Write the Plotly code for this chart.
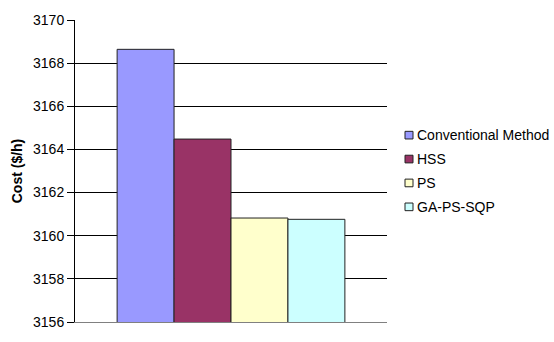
import plotly.graph_objects as go

# Generation cost per method ($/h)
methods = ["Conventional Method", "HSS", "PS", "GA-PS-SQP"]
costs = [3168.64, 3164.48, 3160.82, 3160.76]
colors = ["#9999FF", "#993366", "#FFFFCC", "#CCFFFF"]
y_ticks = [3156, 3158, 3160, 3162, 3164, 3166, 3168, 3170]

FONT = "Liberation Sans, Arial, sans-serif"

fig = go.Figure()
for name, cost, color in zip(methods, costs, colors):
    fig.add_trace(go.Bar(
        x=[""], y=[cost], name=name,
        marker=dict(color=color, line=dict(color="#222222", width=1)),
        showlegend=False,
    ))

# Legend: small bordered squares with labels on the right side
L, R, T, B = 75, 387, 12.5, 328.5
W, H = R - L, B - T
leg_x0 = 405
leg_y0 = 133
leg_dy = 25
for i, (name, color) in enumerate(zip(methods, colors)):
    cy = leg_y0 + i * leg_dy
    fig.add_shape(
        type="rect", xref="paper", yref="paper",
        x0=(leg_x0 - L) / W, x1=(leg_x0 + 8 - L) / W,
        y0=(B - (cy + 4)) / H, y1=(B - (cy - 4)) / H,
        fillcolor=color, line=dict(color="#222222", width=1),
    )
    fig.add_annotation(
        xref="paper", yref="paper",
        x=(leg_x0 + 10 - L) / W, y=(B - cy) / H,
        text=name, showarrow=False, xanchor="left", yanchor="middle",
        font=dict(family=FONT, size=14, color="#000000"),
    )

fig.update_layout(
    width=554, height=342,
    margin=dict(l=L, r=554 - R, t=13, b=13),
    paper_bgcolor="white", plot_bgcolor="white",
    barmode="group", bargap=0.27, bargroupgap=0,
    font=dict(family=FONT, size=14, color="#000000"),
    showlegend=False,
)
fig.update_xaxes(
    showticklabels=False, showgrid=False, ticks="",
    showline=True, linecolor="#808080", linewidth=1,
)
fig.update_yaxes(
    range=[3156, 3170], tickvals=y_ticks, ticktext=[str(v) for v in y_ticks],
    showgrid=True, gridcolor="#000000", gridwidth=1,
    showline=True, linecolor="#000000", linewidth=1,
    ticks="outside", ticklen=7, tickcolor="#000000",
    tickfont=dict(family=FONT, size=14),
    title=dict(text="<b>Cost ($/h)</b>", font=dict(family=FONT, size=14), standoff=7),
    zeroline=False,
)

fig.write_html("out.html")
